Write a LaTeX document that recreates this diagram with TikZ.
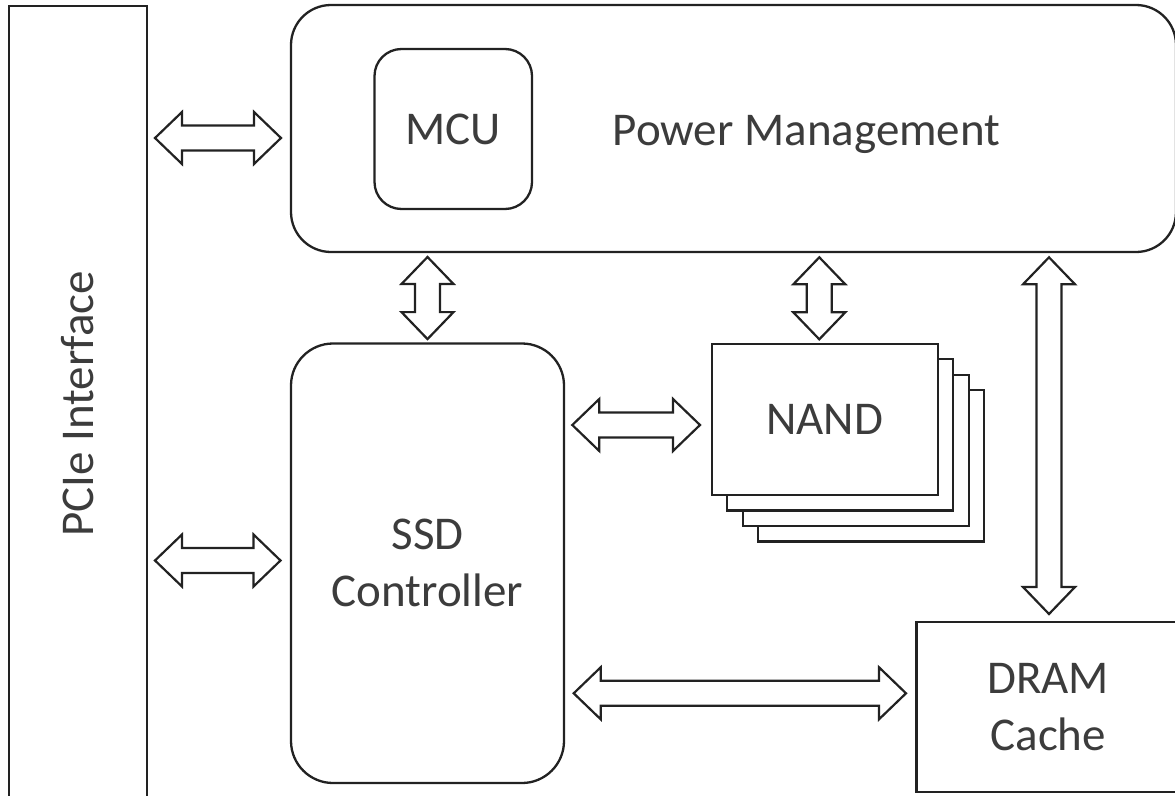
\documentclass[tikz,border=0pt]{standalone}
\usepackage{fontspec}
\setmainfont{Carlito}
\usetikzlibrary{calc}
\definecolor{linec}{HTML}{222222}
\definecolor{textc}{HTML}{3C3C3C}
\begin{document}
\begin{tikzpicture}[x=1pt,y=-1pt,
  box/.style={draw=linec, line width=2.3pt, fill=white, inner sep=0pt, outer sep=0pt,
    text=textc, font=\fontsize{47}{57}\selectfont, align=center, anchor=north west},
  lbl/.style={text=textc, font=\fontsize{47}{57}\selectfont, inner sep=0pt},
  barrow/.style={draw=linec, line width=2.2pt, fill=white, line join=miter},
  hbarrow/.style={to path={let \p1=(\tikztostart), \p2=(\tikztotarget) in
    (\x1,\y1) -- (\x1+27pt,\y1+26pt) -- (\x1+27pt,\y1+12.5pt) -- (\x2-27pt,\y1+12.5pt)
    -- (\x2-27pt,\y1+26pt) -- (\x2,\y1) -- (\x2-27pt,\y1-26pt) -- (\x2-27pt,\y1-12.5pt)
    -- (\x1+27pt,\y1-12.5pt) -- (\x1+27pt,\y1-26pt) -- cycle}},
  vbarrow/.style={to path={let \p1=(\tikztostart), \p2=(\tikztotarget) in
    (\x1,\y1) -- (\x1+26pt,\y1-27pt) -- (\x1+12.5pt,\y1-27pt) -- (\x1+12.5pt,\y2+27pt)
    -- (\x1+26pt,\y2+27pt) -- (\x1,\y2) -- (\x1-26pt,\y2+27pt) -- (\x1-12.5pt,\y2+27pt)
    -- (\x1-12.5pt,\y1-27pt) -- (\x1-26pt,\y1-27pt) -- cycle}}]
\useasboundingbox (0,0) rectangle (1175,795);
\fill[white] (0,0) rectangle (1175,795);
\clip (0,0) rectangle (1175,795);

% blocks
\node[box, minimum width=138pt, minimum height=796pt] (pcie) at (9,6) {};
\node[lbl, rotate=90] (pcielabel) at (pcie.center) {PCIe Interface};

\node[box, rounded corners=40pt, minimum width=885pt, minimum height=247pt] (pm) at (291,5) {};
\node[lbl, anchor=base] (pmlabel) at (806.5,145) {Power Management};
\node[box, rounded corners=27pt, minimum width=157.5pt, minimum height=160pt] (mcu) at (374.5,49) {MCU};

\node[box, rounded corners=42pt, minimum width=273pt, minimum height=439.5pt] (ssd) at (291,343.5) {SSD\\Controller};

\node[box, minimum width=226pt, minimum height=151.3pt] (nand4) at (758.2,390.2) {};
\node[box, minimum width=226pt, minimum height=151.3pt] (nand3) at (742.7,374.7) {};
\node[box, minimum width=226pt, minimum height=151.3pt] (nand2) at (727.2,359.2) {};
\node[box, minimum width=226pt, minimum height=151.3pt] (nand1) at (711.7,343.7) {NAND};

\node[box, minimum width=263.5pt, minimum height=170pt] (dram) at (916.5,622) {DRAM\\Cache};

% connector end points
\coordinate (a1s) at ($(pcie.east |- 0,138)+(8,0)$);
\coordinate (a1e) at ($(pm.west |- 0,138)+(-10,0)$);
\coordinate (a2s) at ($(pcie.east |- 0,560.5)+(8,0)$);
\coordinate (a2e) at ($(ssd.west |- 0,560.5)+(-10.5,0)$);
\coordinate (a3s) at ($(pm.south -| ssd.north)+(0,5)$);
\coordinate (a3e) at ($(ssd.north)+(0,-4.4)$);
\coordinate (a4s) at ($(pm.south -| 819.3,0)+(0,5.3)$);
\coordinate (a4e) at ($(nand1.north -| 819.3,0)+(0,-4.4)$);
\coordinate (a5s) at ($(pm.south -| 1049,0)+(0,5.3)$);
\coordinate (a5e) at ($(dram.north -| 1049,0)+(0,-8)$);
\coordinate (a6s) at ($(ssd.east |- 0,425)+(8.3,0)$);
\coordinate (a6e) at ($(nand1.west |- 0,425)+(-11.7,0)$);
\coordinate (a7s) at ($(ssd.east |- 0,693.3)+(9.7,0)$);
\coordinate (a7e) at ($(dram.west |- 0,693.3)+(-10.5,0)$);

% block arrows
\draw[barrow] (a1s) to[hbarrow] (a1e);
\draw[barrow] (a2s) to[hbarrow] (a2e);
\draw[barrow] (a3s) to[vbarrow] (a3e);
\draw[barrow] (a4s) to[vbarrow] (a4e);
\draw[barrow] (a5s) to[vbarrow] (a5e);
\draw[barrow] (a6s) to[hbarrow] (a6e);
\draw[barrow] (a7s) to[hbarrow] (a7e);
\end{tikzpicture}
\end{document}
